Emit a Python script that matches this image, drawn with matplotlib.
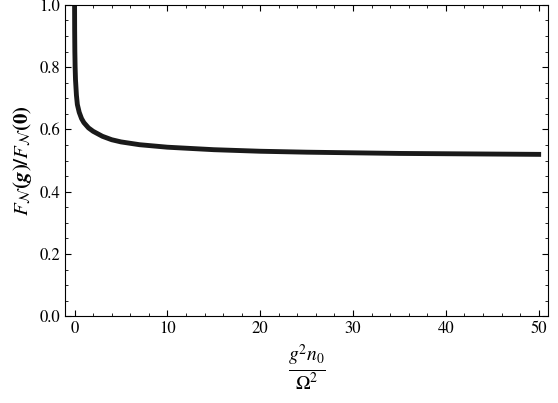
import matplotlib
matplotlib.use('Agg')
import matplotlib.pyplot as plt

# values
x_vals = [0, 0.01, 0.03, 0.06, 0.1, 0.2, 0.3, 0.5, 0.75, 1, 1.5, 2, 3, 4, 5, 7, 10,
          15, 20, 25, 30, 35, 40, 45, 50]
y_vals = [1.0, 0.92, 0.85, 0.80, 0.76, 0.71, 0.68, 0.655, 0.635, 0.622, 0.605, 0.594,
          0.578, 0.567, 0.560, 0.551, 0.543, 0.535, 0.530, 0.527, 0.525,
          0.523, 0.522, 0.521, 0.520]

plt.rcParams['mathtext.fontset'] = 'stix'
plt.rcParams['font.family'] = 'STIXGeneral'

fig, ax = plt.subplots()
fig.set_size_inches(5.58, 4.03)
fig.subplots_adjust(left=0.117, right=0.982, top=0.988, bottom=0.215)

ax.plot(x_vals, y_vals, color='#1a1a1a', lw=3.5)
ax.set_xlim(-1, 51)
ax.set_ylim(0, 1)
ax.set_xticks([0, 10, 20, 30, 40, 50])
ax.set_yticks([0.0, 0.2, 0.4, 0.6, 0.8, 1.0])
ax.set_xticks(range(0, 51, 2), minor=True)
ax.set_yticks([i * 0.05 for i in range(21)], minor=True)
ax.tick_params(which='both', direction='in', top=True, right=True, labelsize=12)
ax.tick_params(which='minor', length=2)
ax.tick_params(which='major', length=4)
ax.yaxis.set_major_formatter(matplotlib.ticker.FormatStrFormatter('%.1f'))

ax.set_xlabel(r'$\boldsymbol{\frac{g^2 n_0}{\Omega^2}}$', fontsize=20)
ax.set_ylabel(r'$\boldsymbol{F_{\mathcal{N}}(g)/F_{\mathcal{N}}(0)}$', fontsize=15)

plt.savefig('out.png', dpi=100)
